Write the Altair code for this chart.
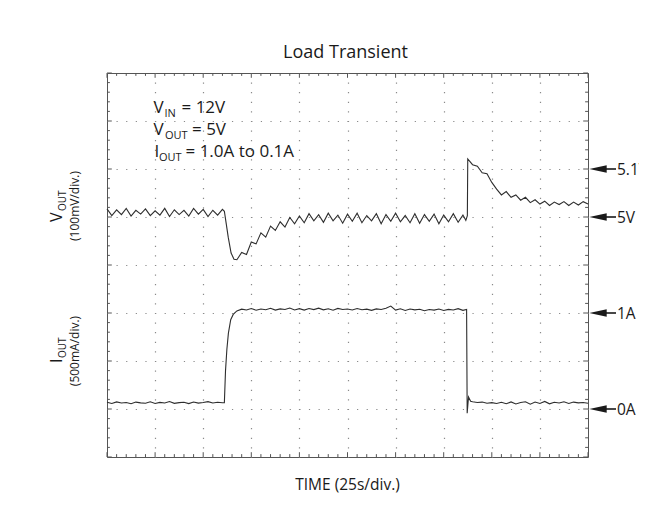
import altair as alt
import pandas as pd

# ---------------- data ----------------
# time base 25 s/div (10 div), VOUT 100 mV/div (5 V at div 5), IOUT 500 mA/div (0 A at div 1)
STEP = 2.5  # sample spacing of the regular segments, seconds

vout_pre = [5.017, 5.003, 5.015, 5.005, 5.018, 5.002, 5.014, 5.006, 5.017, 5.003,
            5.013, 5.004, 5.018, 5.001, 5.015, 5.005, 5.014, 5.002, 5.018, 5.006,
            5.016, 5.001, 5.014, 5.004, 5.016]                      # t = 0 ... 60 s
vout_drop_t = [61.0, 62.0, 63.0, 64.5, 66.0]
vout_drop = [5.012, 4.985, 4.958, 4.925, 4.912]
vout_rec = [4.911, 4.926, 4.922, 4.948, 4.944, 4.967, 4.958, 4.981, 4.972, 4.990,
            4.979, 4.999, 4.986, 5.002, 4.988, 5.007, 4.992, 5.005, 4.989, 5.008,
            4.992, 5.004, 4.987, 5.006, 4.991, 5.008, 4.988, 5.003, 4.992, 5.007,
            4.986, 5.005, 4.991, 5.008, 4.990, 5.003, 4.988, 5.007, 4.987, 5.005,
            4.991, 5.006, 4.986, 5.004, 4.990, 5.007, 4.989, 5.004]  # t = 67.5 ... 185 s
vout_jump_t = [186.5, 187.3]
vout_jump = [4.993, 5.003]
vout_post = [5.121, 5.109, 5.106, 5.092, 5.090, 5.072, 5.058, 5.046, 5.053, 5.041,
             5.046, 5.035, 5.041, 5.030, 5.036, 5.027, 5.033, 5.024, 5.031, 5.026,
             5.032, 5.024, 5.031, 5.025, 5.032, 5.027]               # t = 187.5 ... 250 s

iout_pre = [0.070, 0.058, 0.074, 0.062, 0.068, 0.055, 0.072, 0.064, 0.060, 0.075,
            0.057, 0.069, 0.063, 0.078, 0.059, 0.066, 0.071, 0.056, 0.073, 0.061,
            0.068, 0.077, 0.062, 0.070, 0.065]                      # t = 0 ... 60 s
iout_rise_t = [61.0, 61.6, 62.3, 63.1, 64.3, 65.6]
iout_rise = [0.066, 0.40, 0.62, 0.79, 0.93, 0.985]
iout_plat = [1.022, 1.040, 1.031, 1.046, 1.029, 1.041, 1.034, 1.049, 1.030, 1.043,
             1.036, 1.052, 1.032, 1.045, 1.030, 1.047, 1.035, 1.050, 1.033, 1.044,
             1.029, 1.048, 1.036, 1.042, 1.031, 1.046, 1.034, 1.040, 1.028, 1.043,
             1.037, 1.049, 1.072, 1.030, 1.044, 1.027, 1.041, 1.033, 1.039, 1.024,
             1.037, 1.030, 1.042, 1.026, 1.038, 1.031, 1.045, 1.028]  # t = 67.5 ... 185 s
iout_fall_t = [186.9, 187.2, 187.9, 189.0]
iout_fall = [1.036, -0.045, 0.125, 0.080]
iout_post = [0.075, 0.068, 0.072, 0.060, 0.066, 0.058, 0.070, 0.055, 0.074, 0.052,
             0.068, 0.076, 0.050, 0.072, 0.058, 0.079, 0.054, 0.070, 0.062, 0.075,
             0.057, 0.072, 0.064, 0.068, 0.060]                      # t = 190 ... 250 s

marker_labels = ["5.1V", "5V", "1A", "0A"]
marker_values = [5.1, 5.0, 1.0, 0.0]
marker_units = ["V", "V", "A", "A"]

grid_x = [25, 50, 75, 100, 125, 150, 175, 200, 225]
grid_y = [1, 2, 3, 4, 5, 6, 7]

# ---------------- helpers ----------------
def times(start, vals):
    return [start + STEP * k for k in range(len(vals))]

def v_div(v):
    return (v - 5.0) / 0.1 + 5.0

def i_div(i):
    return i / 0.5 + 1.0

vdf = pd.DataFrame({
    "t": times(0, vout_pre) + vout_drop_t + times(67.5, vout_rec) + vout_jump_t + times(187.5, vout_post),
    "val": vout_pre + vout_drop + vout_rec + vout_jump + vout_post,
})
vdf["div"] = v_div(vdf["val"])

idf = pd.DataFrame({
    "t": times(0, iout_pre) + iout_rise_t + times(67.5, iout_plat) + iout_fall_t + times(190, iout_post),
    "val": iout_pre + iout_rise + iout_plat + iout_fall + iout_post,
})
idf["div"] = i_div(idf["val"])

mdf = pd.DataFrame({"lab": marker_labels, "val": marker_values, "unit": marker_units})
mdf["div"] = [v_div(v) if u == "V" else i_div(v) for v, u in zip(mdf["val"], mdf["unit"])]

xticks = pd.DataFrame({"t": [5 * k for k in range(51)]})
yticks = pd.DataFrame({"d": [round(0.2 * k, 2) for k in range(41)]})

# ---------------- style ----------------
FONT = "Open Sans"
INK = "#1a1a1a"
TRACE = "#2e2e2e"
FRAME = "#555555"
GRID = "#8a8a8a"
W, H = 481, 384

XS = alt.Scale(domain=[0, 250], nice=False, zero=False)
YS = alt.Scale(domain=[0, 8], nice=False, zero=False)
AX_X = alt.Axis(values=grid_x, grid=True, labels=False, ticks=False, domain=False, title=None,
                gridDash=[1.2, 8.4], gridDashOffset=0.6, gridColor=GRID, gridWidth=1.2)
AX_Y = alt.Axis(values=grid_y, grid=True, labels=False, ticks=False, domain=False, title=None,
                gridDash=[1.2, 8.42], gridDashOffset=0.6, gridColor=GRID, gridWidth=1.2)

ONE = pd.DataFrame({"k": [0]})


def label(text, x, y, size, align="left", baseline="alphabetic", angle=0):
    return alt.Chart(ONE).mark_text(
        text=text, font=FONT, fontSize=size, color=INK, align=align,
        baseline=baseline, angle=angle,
    ).encode(x=alt.value(x), y=alt.value(y))


vout_line = alt.Chart(vdf).mark_line(color=TRACE, strokeWidth=1.1).encode(
    x=alt.X("t:Q", scale=XS, axis=AX_X),
    y=alt.Y("div:Q", scale=YS, axis=AX_Y),
)
iout_line = alt.Chart(idf).mark_line(color=TRACE, strokeWidth=1.1).encode(
    x=alt.X("t:Q", scale=XS, axis=AX_X),
    y=alt.Y("div:Q", scale=YS, axis=AX_Y),
)

tick_bottom = alt.Chart(xticks).mark_rule(color=FRAME, strokeWidth=1).transform_calculate(
    y0="0", y1="datum.t % 25 == 0 ? 0.1 : 0.06"
).encode(x=alt.X("t:Q", scale=XS, axis=AX_X), y=alt.Y("y0:Q", scale=YS, axis=AX_Y), y2="y1:Q")
tick_top = alt.Chart(xticks).mark_rule(color=FRAME, strokeWidth=1).transform_calculate(
    y0="8", y1="datum.t % 25 == 0 ? 7.9 : 7.94"
).encode(x=alt.X("t:Q", scale=XS, axis=AX_X), y=alt.Y("y0:Q", scale=YS, axis=AX_Y), y2="y1:Q")
tick_left = alt.Chart(yticks).mark_rule(color=FRAME, strokeWidth=1).transform_calculate(
    x0="0", x1="abs(datum.d - round(datum.d)) < 0.001 ? 2.5 : 1.5"
).encode(x=alt.X("x0:Q", scale=XS, axis=AX_X), x2="x1:Q", y=alt.Y("d:Q", scale=YS, axis=AX_Y))
tick_right = alt.Chart(yticks).mark_rule(color=FRAME, strokeWidth=1).transform_calculate(
    x0="250", x1="abs(datum.d - round(datum.d)) < 0.001 ? 247.5 : 248.5"
).encode(x=alt.X("x0:Q", scale=XS, axis=AX_X), x2="x1:Q", y=alt.Y("d:Q", scale=YS, axis=AX_Y))

arrow_head = alt.Chart(mdf).mark_point(
    shape="M-1,0L1,-0.42L1,0.42Z", filled=True, size=300, color=INK, opacity=1, strokeWidth=0
).encode(x=alt.value(491), y=alt.Y("div:Q", scale=YS, axis=AX_Y))
arrow_tail = alt.Chart(mdf).mark_rule(color=INK, strokeWidth=1.6).encode(
    x=alt.value(498), x2=alt.value(509), y=alt.Y("div:Q", scale=YS, axis=AX_Y)
)
arrow_text = alt.Chart(mdf).mark_text(
    font=FONT, fontSize=15.5, color=INK, align="left", baseline="middle", dy=1
).encode(x=alt.value(510), y=alt.Y("div:Q", scale=YS, axis=AX_Y), text="lab:N")

texts = [
    label("Load Transient", 238.5, -15, 18, align="center"),
    label("TIME (25s/div.)", 240.5, 417, 15.5, align="center"),
    # conditions box
    label("V", 46.5, 40, 17), label("IN", 57.5, 44, 11), label("= 12V", 74.5, 40, 17),
    label("V", 46.5, 62, 17), label("OUT", 58, 66, 11), label("= 5V", 85, 62, 17),
    label("I", 47.5, 83.5, 17), label("OUT", 52, 87.5, 11), label("= 1.0A to 0.1A", 78.5, 83.5, 17),
    # rotated y labels
    label("V", -45, 149, 16, angle=270), label("OUT", -41, 138, 10, angle=270),
    label("(100mV/div.)", -28, 133, 12, align="center", angle=270),
    label("I", -45, 290, 16, angle=270), label("OUT", -41, 285, 10, angle=270),
    label("(500mA/div.)", -28, 278, 12, align="center", angle=270),
]

chart = alt.layer(
    vout_line, iout_line, tick_bottom, tick_top, tick_left, tick_right,
    arrow_head, arrow_tail, arrow_text, *texts,
).properties(
    width=W, height=H,
    padding={"left": 99, "top": 65, "right": 51, "bottom": 45},
    autosize=alt.AutoSizeParams(type="none"),
    background="white",
).configure_view(stroke=FRAME, strokeWidth=1)

chart.save("out.html", embed_options={"renderer": "svg", "actions": False})
